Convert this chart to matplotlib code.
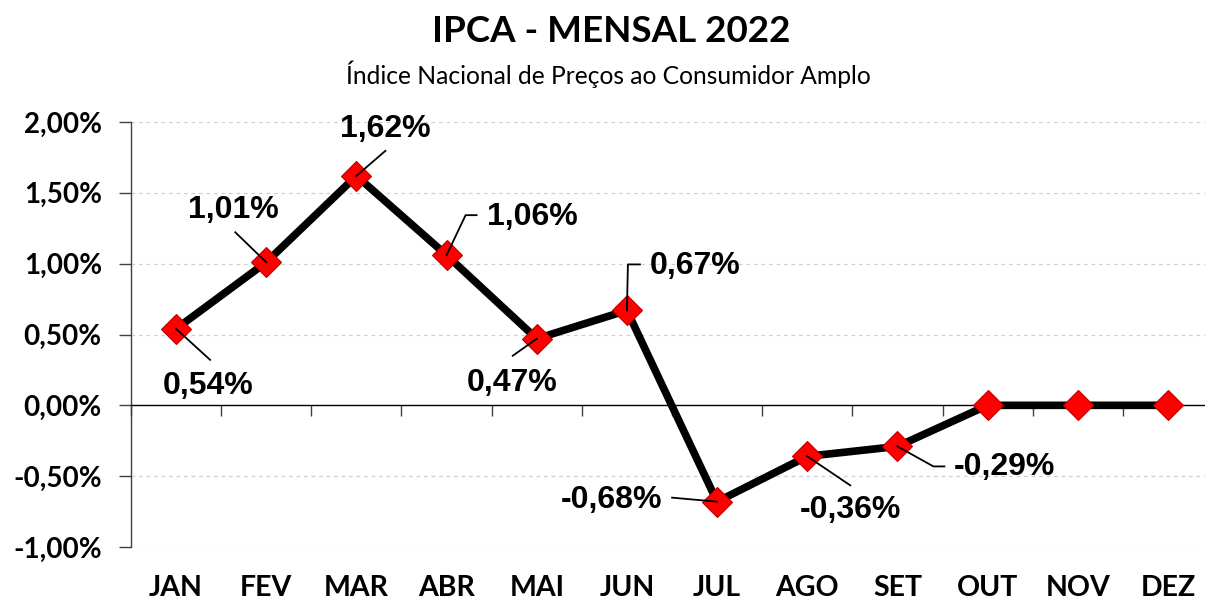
import matplotlib
matplotlib.use("Agg")
import matplotlib.pyplot as plt
import numpy as np

# dados do IPCA mensal 2022 (%)
MESES = ["JAN", "FEV", "MAR", "ABR", "MAI", "JUN", "JUL", "AGO", "SET", "OUT", "NOV", "DEZ"]
IPCA = [0.54, 1.01, 1.62, 1.06, 0.47, 0.67, -0.68, -0.36, -0.29, 0.0, 0.0, 0.0]
ROTULOS = ["0,54%", "1,01%", "1,62%", "1,06%", "0,47%", "0,67%",
           "-0,68%", "-0,36%", "-0,29%", None, None, None]
Y_TICKS = [-1.0, -0.5, 0.0, 0.5, 1.0, 1.5, 2.0]
Y_LABELS = ["-1,00%", "-0,50%", "0,00%", "0,50%", "1,00%", "1,50%", "2,00%"]

# posicao dos rotulos (pixels em relacao ao marcador, y para baixo)
# (texto_dx, texto_dy, ha, vertices da linha guia)
LAYOUT = [
    (32, 57, "center", [(0, 0), (34, 31)]),
    (-33, -52, "center", [(0, 0), (-31, -30)]),
    (29, -47, "center", [(0, 0), (29, -25)]),
    (40, -38, "left", [(0, 0), (19, -40), (30, -40)]),
    (-25, 44, "center", [(0, 0), (-24, 17)]),
    (23, -44, "left", [(0, 0), (1, -46), (13, -46)]),
    (-55, -2, "right", [(0, 0), (-45, -4)]),
    (43, 54, "center", [(0, 0), (43, 29)]),
    (56, 21, "left", [(0, 0), (36, 20), (47, 20)]),
    None, None, None,
]

W, H = 1205, 599
fig = plt.figure(figsize=(W / 100, H / 100), dpi=100)
ax = fig.add_axes([131 / W, 1 - 547 / H, (1213 - 131) / W, (547 - 122) / H])

x = np.arange(len(MESES))
ax.set_xlim(-0.5, len(MESES) - 0.5)
ax.set_ylim(-1.0, 2.0)

# grade tracejada
for yv in Y_TICKS:
    if yv != 0:
        ax.axhline(yv, color="#d0d0d0", lw=0.9, ls=(0, (3, 3)), zorder=0)

ax.plot(x, IPCA, color="black", lw=5.5, zorder=2, solid_capstyle="butt")
ax.plot(x, IPCA, ls="none", marker="D", ms=15.5, mfc="#ff0000", mec="#c00000",
        mew=0.8, zorder=3)

# eixos
for s in ["top", "right"]:
    ax.spines[s].set_visible(False)
ax.spines["left"].set_color("#404040")
ax.spines["left"].set_linewidth(1.0)
ax.spines["bottom"].set_position(("data", 0))
ax.spines["bottom"].set_color("black")
ax.spines["bottom"].set_linewidth(1.0)

ax.set_yticks(Y_TICKS)
ax.set_yticklabels(Y_LABELS, fontfamily="Lato", fontweight="bold", fontsize=20)
ax.tick_params(axis="y", length=9, width=1.0, color="#404040", pad=12)

ax.set_xticks(x)
ax.set_xticklabels([])
ax.set_xticks(np.arange(len(MESES) + 1) - 0.5, minor=True)
ax.tick_params(axis="x", which="major", length=0)
ax.tick_params(axis="x", which="minor", length=8, width=1.0, direction="out", color="#404040")

sec = ax.secondary_xaxis("bottom")
sec.set_xticks(x)
sec.set_xticklabels(MESES, fontfamily="Lato", fontweight="bold", fontsize=20.5)
sec.tick_params(length=0, pad=20)
sec.spines["bottom"].set_visible(False)

# rotulos de dados com linhas guia
inv = ax.transData.inverted()
for i, (v, txt, lay) in enumerate(zip(IPCA, ROTULOS, LAYOUT)):
    if txt is None:
        continue
    tdx, tdy, ha, verts = lay
    px, py = ax.transData.transform((i, v))
    pts = inv.transform([(px + dx, py - dy) for dx, dy in verts])
    ax.plot(pts[:, 0], pts[:, 1], color="black", lw=1.3, zorder=4)
    tx, ty = inv.transform((px + tdx, py - tdy))
    ax.text(tx, ty, txt, ha=ha, va="center", fontfamily="Liberation Sans",
            fontweight="bold", fontsize=23, zorder=5)

fig.text(611 / W, 1 - 31 / H, "IPCA - MENSAL 2022", ha="center", va="center",
         fontfamily="Lato", fontweight="bold", fontsize=26.5)
fig.text(608 / W, 1 - 74 / H, "Índice Nacional de Preços ao Consumidor Amplo",
         ha="center", va="center", fontfamily="Lato", fontsize=17.7)

fig.savefig("out.png", dpi=100)
